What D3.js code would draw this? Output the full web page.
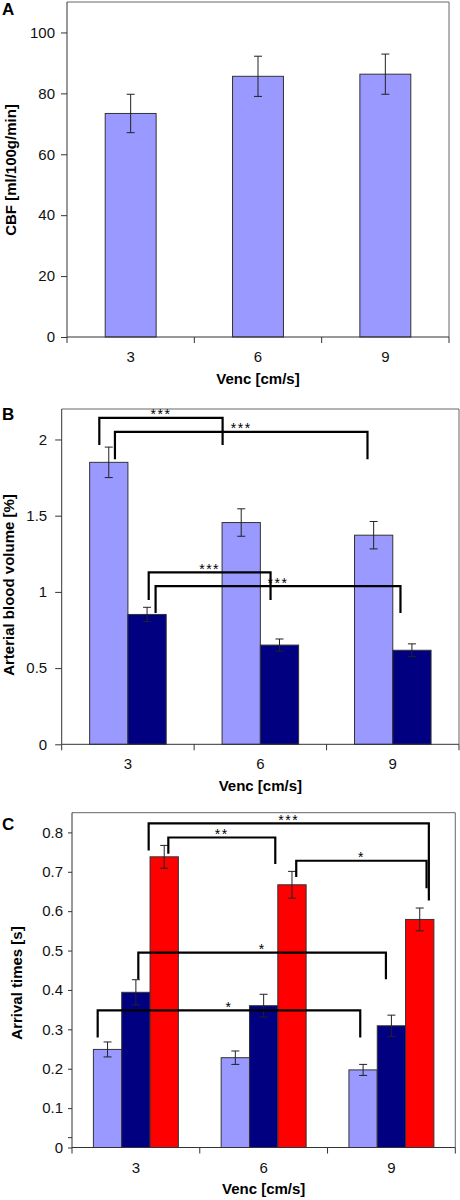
<!DOCTYPE html>
<html><head><meta charset="utf-8">
<script src="https://cdn.jsdelivr.net/npm/d3@7"></script>
<style>
html,body{margin:0;padding:0;background:#fff;}
svg{display:block;font-family:"Liberation Sans",Arial,sans-serif;}
</style></head>
<body>
<svg id="chart" width="460" height="1200"></svg>
<script>
// ---------- data ----------
const categories = ["3", "6", "9"];
const xTitle = "Venc [cm/s]";

// Panel A: CBF
const cbfMean = [73.4, 85.6, 86.3];
const cbfErr  = [6.3, 6.6, 6.6];
const cbfTicks = [0, 20, 40, 60, 80, 100];

// Panel B: arterial blood volume (two series)
const abvLight = [1.85, 1.455, 1.372];
const abvLightErr = [0.10, 0.09, 0.09];
const abvDark = [0.852, 0.651, 0.617];
const abvDarkErr = [0.047, 0.040, 0.042];
const abvTicks = [0, 0.5, 1, 1.5, 2];

// Panel C: arrival times (three series)
const atLight = [0.249, 0.228, 0.197];
const atLightErr = [0.019, 0.017, 0.014];
const atDark = [0.394, 0.360, 0.309];
const atDarkErr = [0.032, 0.029, 0.027];
const atRed = [0.738, 0.667, 0.579];
const atRedErr = [0.029, 0.034, 0.029];
const atTicks = [0, 0.1, 0.2, 0.3, 0.4, 0.5, 0.6, 0.7, 0.8];
const atExtraTicks = [0.025];

// significance brackets: x in category units (0..3), y in data units
const abvBrackets = [
  {x1: 0.284, x2: 1.215, top: 2.142, y1: 1.963, y2: 1.963, label: "***"},
  {x1: 0.402, x2: 2.309, top: 2.050, y1: 1.871, y2: 1.871, label: "***"},
  {x1: 0.657, x2: 1.577, top: 1.128, y1: 0.946, y2: 0.946, label: "***"},
  {x1: 0.709, x2: 2.558, top: 1.038, y1: 0.861, y2: 0.861, label: "***"}
];
const atBrackets = [
  {x1: 0.600, x2: 2.793, top: 0.823, y1: 0.754, y2: 0.627, label: "***"},
  {x1: 0.754, x2: 1.591, top: 0.787, y1: 0.746, y2: 0.720, label: "**"},
  {x1: 1.755, x2: 2.775, top: 0.728, y1: 0.687, y2: 0.658, label: "*"},
  {x1: 0.519, x2: 2.457, top: 0.495, y1: 0.427, y2: 0.427, label: "*"},
  {x1: 0.201, x2: 2.256, top: 0.348, y1: 0.279, y2: 0.279, label: "*"}
];

// ---------- drawing ----------
const svg = d3.select("#chart");
const colors = {light: "#9999ff", dark: "#000080", red: "#ff0000"};

function panel(cfg) {
  const g = svg.append("g");
  const y = d3.scaleLinear().domain([0, cfg.ymax]).range([cfg.bottom, cfg.top]);
  const x0 = d3.scaleBand().domain(categories).range([cfg.left, cfg.right]).padding(0);
  const xu = d3.scaleLinear().domain([0, 3]).range([cfg.left, cfg.right]);
  const bw = x0.bandwidth();
  const x1 = d3.scaleBand().domain(cfg.series.map(s => s.key))
    .range([bw * (1 - cfg.groupFrac) / 2, bw * (1 + cfg.groupFrac) / 2]);

  // frame (top & right)
  g.append("path")
    .attr("d", `M${cfg.left},${cfg.top}H${cfg.right}V${cfg.bottom}`)
    .attr("fill", "none").attr("stroke", "#666").attr("stroke-width", 1);

  // bars
  cfg.series.forEach(s => {
    const rows = categories.map((c, i) => ({c, v: s.values[i], e: s.err[i]}));
    g.selectAll(null).data(rows).enter().append("rect")
      .attr("x", d => x0(d.c) + x1(s.key))
      .attr("width", x1.bandwidth())
      .attr("y", d => y(d.v))
      .attr("height", d => y(0) - y(d.v))
      .attr("fill", colors[s.key])
      .attr("stroke", "#333").attr("stroke-width", 1);
  });
  // error bars
  cfg.series.forEach(s => {
    const rows = categories.map((c, i) => ({c, v: s.values[i], e: s.err[i]}));
    const cx = d => x0(d.c) + x1(s.key) + x1.bandwidth() / 2;
    const eg = g.selectAll(null).data(rows).enter().append("g")
      .attr("stroke", "#222").attr("stroke-width", 1);
    eg.append("line").attr("x1", cx).attr("x2", cx)
      .attr("y1", d => y(d.v + d.e)).attr("y2", d => y(d.v - d.e));
    eg.append("line").attr("x1", d => cx(d) - 4).attr("x2", d => cx(d) + 4)
      .attr("y1", d => y(d.v + d.e)).attr("y2", d => y(d.v + d.e));
    eg.append("line").attr("x1", d => cx(d) - 4).attr("x2", d => cx(d) + 4)
      .attr("y1", d => y(d.v - d.e)).attr("y2", d => y(d.v - d.e));
  });

  // y axis
  const yAxis = d3.axisLeft(y).tickValues(cfg.ticks).tickSize(cfg.tickSize)
    .tickPadding(cfg.tickPad).tickFormat(d3.format("~g"));
  const ya = g.append("g").attr("transform", `translate(${cfg.left},0)`).call(yAxis);
  ya.select(".domain").remove();
  ya.selectAll(".tick line").attr("stroke", "#333");
  ya.selectAll(".tick text").attr("font-size", 15).attr("fill", "#111")
    .attr("font-family", "Liberation Sans, Arial, sans-serif");
  if (cfg.extraTicks) {
    g.selectAll(null).data(cfg.extraTicks).enter().append("line")
      .attr("x1", cfg.left - cfg.tickSize).attr("x2", cfg.left)
      .attr("y1", d => y(d)).attr("y2", d => y(d)).attr("stroke", "#333");
  }
  g.append("line").attr("x1", cfg.left).attr("x2", cfg.left)
    .attr("y1", cfg.top).attr("y2", cfg.bottom).attr("stroke", "#333");

  // x axis
  g.append("line").attr("x1", cfg.left).attr("x2", cfg.right)
    .attr("y1", cfg.bottom).attr("y2", cfg.bottom).attr("stroke", "#333");
  g.selectAll(null).data(d3.range(0, 4)).enter().append("line")
    .attr("x1", d => xu(d)).attr("x2", d => xu(d))
    .attr("y1", cfg.bottom).attr("y2", cfg.bottom + 6).attr("stroke", "#333");
  g.selectAll(null).data(categories).enter().append("text")
    .attr("x", d => x0(d) + bw / 2).attr("y", cfg.bottom + 25)
    .attr("text-anchor", "middle").attr("font-size", 15).attr("fill", "#111")
    .text(d => d);
  g.append("text").attr("x", (cfg.left + cfg.right) / 2).attr("y", cfg.bottom + 46.5)
    .attr("text-anchor", "middle").attr("font-size", 15).attr("font-weight", "bold")
    .text(xTitle);

  // y title
  g.append("text")
    .attr("transform", `translate(${cfg.yTitleX},${cfg.yTitleY}) rotate(-90)`)
    .attr("text-anchor", "middle").attr("font-size", 15).attr("font-weight", "bold")
    .text(cfg.yTitle);

  // panel letter
  g.append("text").attr("x", 2).attr("y", cfg.letterY)
    .attr("font-size", 17).attr("font-weight", "bold").text(cfg.letter);

  // brackets
  if (cfg.brackets) {
    g.selectAll(null).data(cfg.brackets).enter().append("path")
      .attr("d", b => `M${xu(b.x1)},${y(b.y1)}V${y(b.top)}H${xu(b.x2)}V${y(b.y2)}`)
      .attr("fill", "none").attr("stroke", "#000").attr("stroke-width", 2.2);
    g.selectAll(null).data(cfg.brackets).enter().append("text")
      .attr("x", b => (xu(b.x1) + xu(b.x2)) / 2)
      .attr("y", b => y(b.top) + 1.5)
      .attr("text-anchor", "middle").attr("font-size", 14)
      .attr("letter-spacing", 1.5)
      .text(b => b.label);
  }
}

panel({
  letter: "A", letterY: 15,
  left: 67, right: 449, top: 2, bottom: 337, ymax: 110, ticks: cbfTicks,
  tickSize: 6, tickPad: 6, groupFrac: 0.4,
  series: [{key: "light", values: cbfMean, err: cbfErr}],
  yTitle: "CBF [ml/100g/min]", yTitleX: 16, yTitleY: 170
});

panel({
  letter: "B", letterY: 420,
  left: 61.7, right: 459, top: 409, bottom: 744.3, ymax: 2.2, ticks: abvTicks,
  tickSize: 6.5, tickPad: 8, groupFrac: 0.578,
  series: [{key: "light", values: abvLight, err: abvLightErr},
           {key: "dark", values: abvDark, err: abvDarkErr}],
  yTitle: "Arterial blood volume [%]", yTitleX: 14, yTitleY: 585,
  brackets: abvBrackets
});

panel({
  letter: "C", letterY: 830,
  left: 72, right: 455.3, top: 812.7, bottom: 1147.5, ymax: 0.85, ticks: atTicks,
  extraTicks: atExtraTicks,
  tickSize: 4, tickPad: 5, groupFrac: 0.665,
  series: [{key: "light", values: atLight, err: atLightErr},
           {key: "dark", values: atDark, err: atDarkErr},
           {key: "red", values: atRed, err: atRedErr}],
  yTitle: "Arrival times [s]", yTitleX: 22, yTitleY: 983,
  brackets: atBrackets
});
</script>
</body></html>
